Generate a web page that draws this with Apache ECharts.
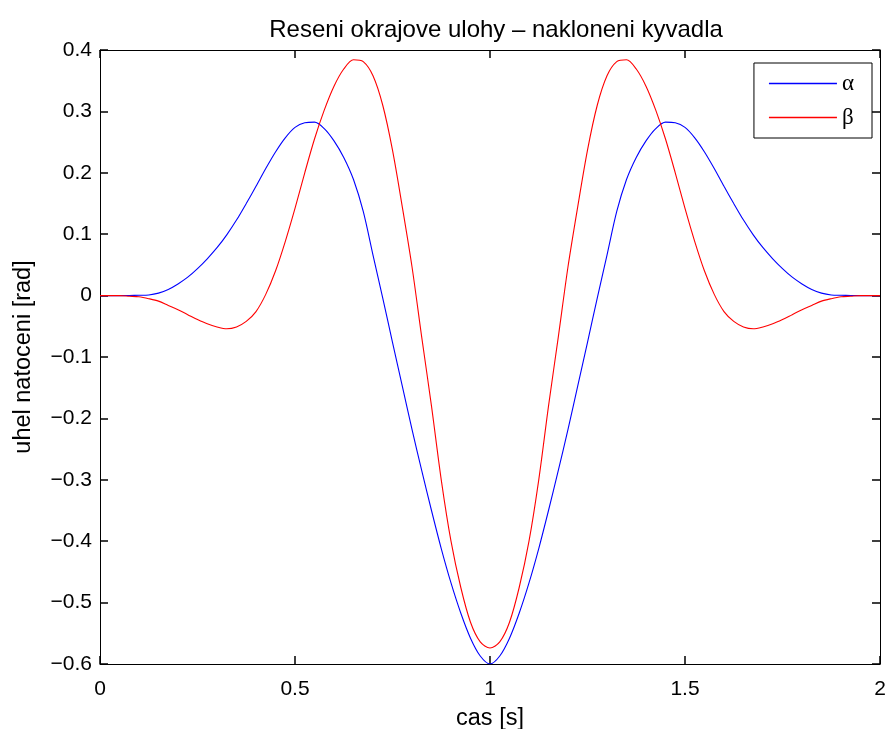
<!DOCTYPE html>
<html>
<head>
<meta charset="utf-8">
<script src="https://cdn.jsdelivr.net/npm/echarts@6/dist/echarts.min.js"></script>
<style>
html,body{margin:0;padding:0;background:#fff;}
#chart{width:889px;height:729px;}
</style>
</head>
<body>
<div id="chart"></div>
<script>
// time grid [s]
var timeStep = 0.025;
var timeCount = 81;

// alpha [rad]
var alpha = [
  0, 0, 0, 0.0002, 0.0005, 0.001, 0.004, 0.01, 0.019, 0.03,
  0.044, 0.06, 0.078, 0.099, 0.123, 0.15, 0.178, 0.207, 0.234, 0.257,
  0.274, 0.2815, 0.2825, 0.272, 0.252, 0.225, 0.189, 0.137, 0.066, -0.004,
  -0.076, -0.147, -0.218, -0.285, -0.35, -0.412, -0.468, -0.517, -0.558, -0.587,
  -0.6,
  -0.587, -0.558, -0.517, -0.468, -0.412, -0.35, -0.285, -0.218, -0.147, -0.076,
  -0.004, 0.066, 0.137, 0.189, 0.225, 0.252, 0.272, 0.2825, 0.2815, 0.274,
  0.257, 0.234, 0.207, 0.178, 0.15, 0.123, 0.099, 0.078, 0.06, 0.044,
  0.03, 0.019, 0.01, 0.004, 0.001, 0.0005, 0.0002, 0, 0, 0
];

// beta [rad]
var beta = [
  0, 0, 0, -0.001, -0.002, -0.005, -0.009, -0.016, -0.023, -0.031,
  -0.039, -0.046, -0.051, -0.054, -0.051, -0.042, -0.026, 0.002, 0.04, 0.088,
  0.142, 0.2, 0.255, 0.302, 0.341, 0.369, 0.384, 0.381, 0.358, 0.31,
  0.237, 0.145, 0.047, -0.068, -0.18, -0.3, -0.4, -0.475, -0.532, -0.564,
  -0.574,
  -0.564, -0.532, -0.475, -0.4, -0.3, -0.18, -0.068, 0.047, 0.145, 0.237,
  0.31, 0.358, 0.381, 0.384, 0.369, 0.341, 0.302, 0.255, 0.2, 0.142,
  0.088, 0.04, 0.002, -0.026, -0.042, -0.051, -0.054, -0.051, -0.046, -0.039,
  -0.031, -0.023, -0.016, -0.009, -0.005, -0.002, -0.001, 0, 0, 0
];

var titleText = 'Reseni okrajove ulohy \u2013 nakloneni kyvadla';
var xName = 'cas [s]';
var yName = 'uhel natoceni [rad]';
var seriesNames = ['\u03b1', '\u03b2'];

function pairs(vals) {
  var out = [];
  for (var i = 0; i < timeCount; i++) out.push([+(i * timeStep).toFixed(3), vals[i]]);
  return out;
}
function fmt(v) {
  var r = Math.round(v * 10) / 10;
  return String(r).replace('-', '\u2212');
}

var FONT = 'Liberation Sans, Arial, Helvetica, sans-serif';
var chart = echarts.init(document.getElementById('chart'), null, {renderer: 'canvas'});
function mkLine() { return {show: true, onZero: false, lineStyle: {color: '#000', width: 1}}; }
function mkTick() { return {show: true, inside: true, length: 8, lineStyle: {color: '#000', width: 1.5}}; }

chart.setOption({
  animation: false,
  backgroundColor: '#fff',
  title: {
    text: titleText,
    left: 491, textAlign: 'center', top: 13,
    textStyle: {fontFamily: FONT, fontSize: 24, fontWeight: 'normal', color: '#000'}
  },
  legend: {
    orient: 'vertical', right: 17, top: 63, data: seriesNames,
    icon: 'rect', itemWidth: 68, itemHeight: 1.3, itemGap: 11,
    padding: [9, 18, 9, 15],
    borderColor: '#000', borderWidth: 1, backgroundColor: '#fff',
    textStyle: {fontFamily: 'Liberation Serif, Times New Roman, serif', fontSize: 23, color: '#000'}
  },
  grid: {left: 100, right: 9, top: 50, bottom: 65, containLabel: false, outerBoundsMode: 'none'},
  xAxis: [{
    type: 'value', min: 0, max: 2, interval: 0.5,
    name: xName, nameLocation: 'middle', nameGap: 43,
    nameTextStyle: {fontFamily: FONT, fontSize: 23.5, color: '#000'},
    axisLine: mkLine(), axisTick: mkTick(), splitLine: {show: false},
    axisLabel: {fontFamily: FONT, fontSize: 21, color: '#000', margin: 15, formatter: fmt}
  }, {
    type: 'value', min: 0, max: 2, interval: 0.5, position: 'top',
    axisLine: mkLine(), axisTick: mkTick(), splitLine: {show: false},
    axisLabel: {show: false}
  }],
  yAxis: [{
    type: 'value', min: -0.6, max: 0.4, interval: 0.1,
    name: yName, nameLocation: 'middle', nameGap: 64,
    nameTextStyle: {fontFamily: FONT, fontSize: 23.5, color: '#000'},
    axisLine: mkLine(), axisTick: mkTick(), splitLine: {show: false},
    axisLabel: {fontFamily: FONT, fontSize: 21, color: '#000', margin: 8, formatter: fmt}
  }, {
    type: 'value', min: -0.6, max: 0.4, interval: 0.1, position: 'right',
    axisLine: mkLine(), axisTick: mkTick(), splitLine: {show: false},
    axisLabel: {show: false}
  }],
  series: [{
    name: seriesNames[0], type: 'line', data: pairs(alpha),
    showSymbol: false, smooth: 0.3,
    lineStyle: {color: '#0000ff', width: 1.1}, itemStyle: {color: '#0000ff'}
  }, {
    name: seriesNames[1], type: 'line', data: pairs(beta),
    showSymbol: false, smooth: 0.3,
    lineStyle: {color: '#ff0000', width: 1.1}, itemStyle: {color: '#ff0000'}
  }]
});
</script>
</body>
</html>
